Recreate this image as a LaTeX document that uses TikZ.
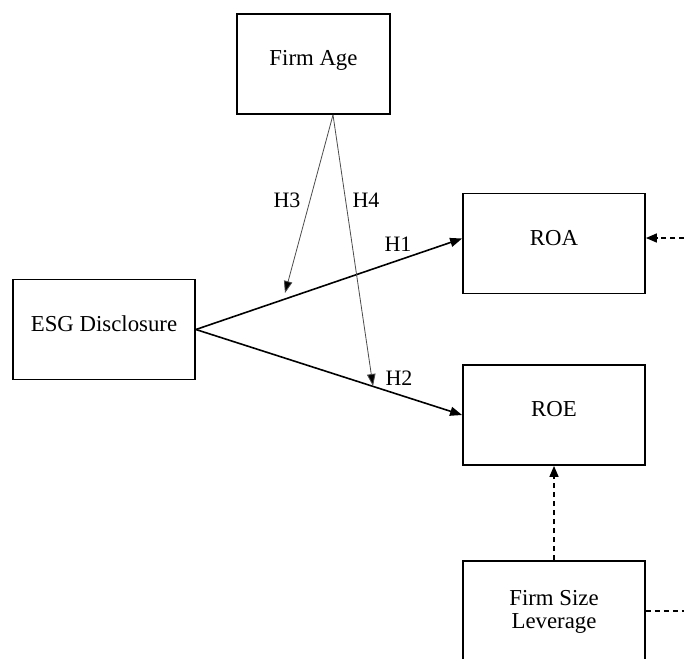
\documentclass[tikz,border=0pt]{standalone}
\usepackage{fontspec}
\setmainfont{Liberation Serif}
\usetikzlibrary{arrows.meta}
\begin{document}
\begin{tikzpicture}[x=1pt,y=-1pt,
  box/.style={draw=black,line width=1.8pt,inner sep=0pt,minimum width=182pt,minimum height=100pt,
    font=\fontsize{22.8}{23}\selectfont,align=center,text height=15pt,text depth=12pt},
  mainarrow/.style={line width=1.6pt,-{Triangle[length=12pt,width=9pt]}},
  modarrow/.style={draw=black!70,line width=0.8pt,-{Triangle[length=12pt,width=8.5pt,fill=black]}},
  dasharrow/.style={line width=1.6pt,dash pattern=on 5pt off 4pt,-{Triangle[length=11pt,width=9pt]}},
  dashline/.style={line width=1.6pt,dash pattern=on 5pt off 4pt},
  hlab/.style={font=\fontsize{22}{23}\selectfont,inner sep=0pt}]
\useasboundingbox (0,0) rectangle (684,658);
\clip (0,0) rectangle (684,658);
\node[box,minimum width=153pt] (age) at (313.5,64) {Firm Age};
\node[box] (esg) at (104,329.5) {ESG Disclosure};
\node[box] (roa) at (554,243.5) {ROA};
\node[box] (roe) at (554,415) {ROE};
\node[box,text height=40pt,text depth=6pt] (ctrl) at (554,611) {Firm Size\\Leverage};
\coordinate (h3end) at (285,293);
\coordinate (h4end) at (373,386);
\coordinate (roain) at (684,238);
\coordinate (ctrlout) at (684,611);
\draw[mainarrow] (esg.east) -- ([yshift=5pt]roa.west);
\draw[mainarrow] (esg.east) -- (roe.west);
\draw[modarrow] ([xshift=19.5pt]age.south) -- (h3end);
\draw[modarrow] ([xshift=19.5pt]age.south) -- (h4end);
\draw[dasharrow] (roain) -- (roa.east |- roain);
\draw[dasharrow] (ctrl.north) -- (roe.south);
\draw[dashline] (ctrl.east) -- (ctrlout);
\node[hlab] (H3) at (287,200) {H3};
\node[hlab] (H4) at (366,200) {H4};
\node[hlab] (H1) at (398,244) {H1};
\node[hlab] (H2) at (399,378) {H2};
\end{tikzpicture}
\end{document}
